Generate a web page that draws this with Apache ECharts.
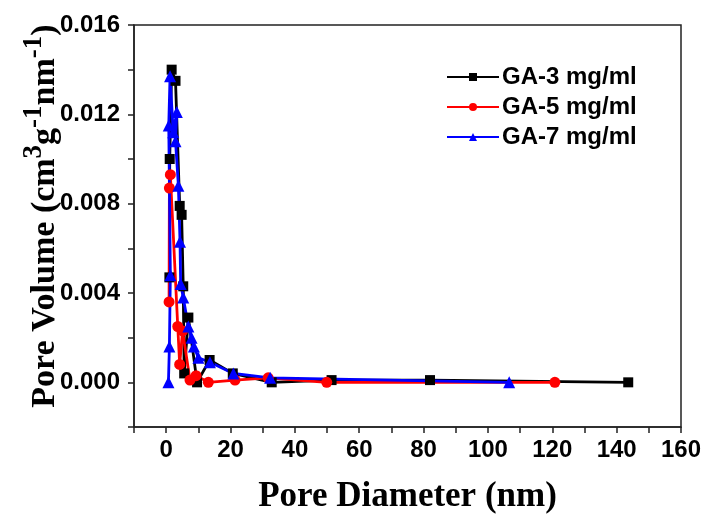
<!DOCTYPE html>
<html>
<head>
<meta charset="utf-8">
<script src="https://cdn.jsdelivr.net/npm/echarts@6/dist/echarts.min.js"></script>
<style>
  html, body { margin: 0; padding: 0; background: #fff; }
  #chart { width: 707px; height: 515px; }
</style>
</head>
<body>
<div id="chart"></div>
<script>
// pore diameter (nm), pore volume (cm3 g-1 nm-1)
const ga3 = [
  [1.0, 0.0047], [1.1, 0.0100], [1.7, 0.0140], [2.9, 0.0135], [4.2, 0.0079],
  [4.8, 0.0075], [5.3, 0.0043], [5.6, 0.0004], [6.9, 0.0029], [9.6, 0.0000],
  [13.5, 0.0010], [20.7, 0.0004], [32.8, 0.0000], [51.4, 0.0001], [82.0, 0.0001],
  [143.6, 0.0000]
];
const ga5 = [
  [0.9, 0.0036], [1.0, 0.0087], [1.3, 0.0093], [3.6, 0.0025], [4.2, 0.0008],
  [5.1, 0.0023], [7.4, 0.0001], [9.3, 0.0003], [13.1, 0.0000], [21.4, 0.0001],
  [31.7, 0.0002], [49.9, 0.0000], [120.8, 0.0000]
];
const ga7 = [
  [0.7, 0.0000], [1.0, 0.0016], [1.3, 0.0048], [0.8, 0.0115], [1.2, 0.0137],
  [2.2, 0.0112], [3.3, 0.0121], [2.9, 0.0108], [3.8, 0.0088], [4.3, 0.0063],
  [4.5, 0.0044], [5.3, 0.0038], [6.9, 0.0025], [7.9, 0.0020], [8.6, 0.0016],
  [10.0, 0.0011], [13.6, 0.0009], [20.9, 0.0004], [32.3, 0.0002], [106.6, 0.0000]
];
const seriesNames = ['GA-3 mg/ml', 'GA-5 mg/ml', 'GA-7 mg/ml'];
const seriesColors = ['#000000', '#ff0000', '#0000ff'];

const sans = '"Liberation Sans", Arial, sans-serif';
const serif = '"Liberation Serif", "Times New Roman", serif';

const chart = echarts.init(document.getElementById('chart'));

function makeSeries(name, data, color, symbol, size) {
  return {
    name: name,
    type: 'line',
    data: data,
    symbol: symbol,
    symbolSize: size,
    color: color,
    lineStyle: { color: color, width: 2.8 },
    itemStyle: { color: color },
    animation: false
  };
}

chart.setOption({
  backgroundColor: '#fff',
  grid: {
    left: 134, right: 26, top: 25, bottom: 88,
    outerBoundsMode: 'none',
    show: true, borderColor: '#222', borderWidth: 1.5
  },
  legend: {
    orient: 'vertical',
    left: 441, top: 60,
    itemWidth: 52, itemHeight: 10, itemGap: 6,
    textStyle: { fontFamily: sans, fontWeight: 'bold', fontSize: 24, color: '#000', padding: [0, 0, 0, -2] },
    data: seriesNames
  },
  xAxis: {
    type: 'value',
    min: -10, max: 160, interval: 10,
    splitLine: { show: false },
    axisLine: { onZero: false, lineStyle: { color: '#222', width: 1.5 } },
    axisTick: { length: 6, lineStyle: { color: '#222', width: 1.5 } },
    axisLabel: {
      fontFamily: sans, fontWeight: 'bold', fontSize: 24, color: '#000', margin: 11,
      formatter: v => (Math.round(v) % 20 === 0 ? String(v) : '')
    },
    name: 'Pore Diameter (nm)',
    nameLocation: 'middle',
    nameGap: 52,
    nameMoveOverlap: false,
    nameTextStyle: { fontFamily: serif, fontWeight: 'bold', fontSize: 35, color: '#000' }
  },
  yAxis: {
    type: 'value',
    min: -0.002, max: 0.016, interval: 0.002,
    splitLine: { show: false },
    axisLine: { onZero: false, lineStyle: { color: '#222', width: 1.5 } },
    axisTick: { length: 6, lineStyle: { color: '#222', width: 1.5 } },
    axisLabel: {
      fontFamily: sans, fontWeight: 'bold', fontSize: 24, color: '#000', margin: 14,
      formatter: v => {
        const k = Math.round(v * 1000);
        return (k % 4 === 0 && k >= 0) ? v.toFixed(3) : '';
      }
    },
    name: '{a|Pore Volume (cm}{s|3}{a|g}{s|-1}{a|nm}{s|-1}{a|)}',
    nameLocation: 'middle',
    nameGap: 72,
    nameRotate: 90,
    nameMoveOverlap: false,
    nameTextStyle: {
      padding: [0, 0, 0, 20],
      rich: {
        a: { fontFamily: serif, fontWeight: 'bold', fontSize: 34, color: '#000', lineHeight: 41, verticalAlign: 'bottom' },
        s: { fontFamily: serif, fontWeight: 'bold', fontSize: 27, color: '#000', lineHeight: 41, verticalAlign: 'top' }
      }
    }
  },
  series: [
    makeSeries(seriesNames[0], ga3, seriesColors[0], 'rect', 10),
    makeSeries(seriesNames[1], ga5, seriesColors[1], 'circle', 11),
    makeSeries(seriesNames[2], ga7, seriesColors[2], 'triangle', 12)
  ]
});
</script>
</body>
</html>
